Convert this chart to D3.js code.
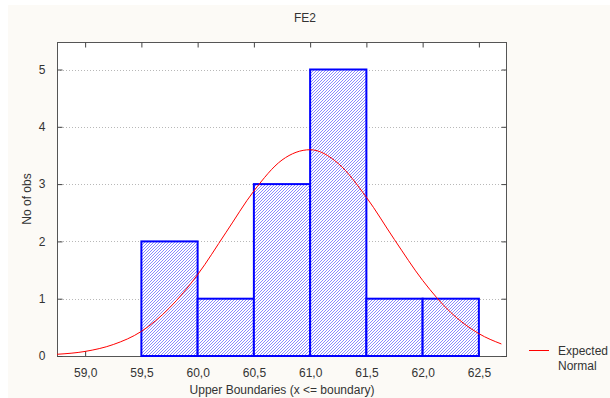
<!DOCTYPE html>
<html><head><meta charset="utf-8">
<script src="https://cdn.jsdelivr.net/npm/d3@7"></script>
<style>
html,body{margin:0;padding:0;background:#fff;}
svg text{font-family:"Liberation Sans",Arial,sans-serif;}
</style></head>
<body><svg id="c" width="610" height="398"></svg>
<script>
// ---- data ----
const title = "FE2";
const binUpper = [59.5, 60.0, 60.5, 61.0, 61.5, 62.0, 62.5];
const counts   = [0, 2, 1, 3, 5, 1, 1];
const binWidth = 0.5;
const xTicks = [59.0, 59.5, 60.0, 60.5, 61.0, 61.5, 62.0, 62.5];
const yTicks = [0, 1, 2, 3, 4, 5];
const curveX = [58.75, 59.0, 59.25, 59.5, 59.75, 60.0, 60.25, 60.5, 60.75, 61.0, 61.25, 61.5, 61.75, 62.0, 62.25, 62.5, 62.7];
const curveY = [0.03, 0.08, 0.20, 0.43, 0.84, 1.42, 2.15, 2.88, 3.42, 3.60, 3.36, 2.77, 2.03, 1.32, 0.76, 0.39, 0.21];
const xLabel = "Upper Boundaries (x <= boundary)";
const yLabel = "No of obs";
const legendLines = ["Expected", "Normal"];

// ---- layout ----
const svg = d3.select("#c");
const L = 57, R = 507, T = 42, B = 356;
svg.append("rect").attr("x", 8).attr("y", 5).attr("width", 602).attr("height", 393).attr("fill", "#fcfaf6");

const x = d3.scaleLinear().domain([58.75, 62.75]).range([L, R]);
const y = d3.scaleLinear().domain([0, 5.48]).range([B, T]);

const defs = svg.append("defs");
const pat = defs.append("pattern").attr("id", "hatch").attr("patternUnits", "userSpaceOnUse")
  .attr("width", 3).attr("height", 3);
pat.append("rect").attr("width", 3).attr("height", 3).attr("fill", "#ffffff");
pat.append("path").attr("d", "M-0.75,0.75 l1.5,-1.5 M0,3 l3,-3 M2.25,3.75 l1.5,-1.5")
  .attr("stroke", "#3a3aff").attr("stroke-width", 0.6);

// plot background
svg.append("rect").attr("x", L).attr("y", T).attr("width", R - L).attr("height", B - T).attr("fill", "#ffffff");

// grid
svg.append("g").selectAll("line").data(yTicks.filter(d => d > 0)).join("line")
  .attr("x1", L).attr("x2", R).attr("y1", d => Math.round(y(d)) + 0.5).attr("y2", d => Math.round(y(d)) + 0.5)
  .attr("stroke", "#b8b8b8").attr("stroke-dasharray", "1,2");

// frame
svg.append("rect").attr("x", L + 0.5).attr("y", T + 0.5).attr("width", R - L - 1).attr("height", B - T)
  .attr("fill", "none").attr("stroke", "#555").attr("stroke-width", 1);

// axes (ticks inward)
const axB = d3.axisBottom(x).tickValues(xTicks).tickSize(-5).tickPadding(12).tickFormat(d => d3.format(".1f")(d).replace(".", ","));
const gB = svg.append("g").attr("transform", `translate(0,${B})`).call(axB);
const axT = d3.axisTop(x).tickValues(xTicks).tickSize(-5).tickFormat("");
const gT = svg.append("g").attr("transform", `translate(0,${T + 0.5})`).call(axT);
const axL = d3.axisLeft(y).tickValues(yTicks).tickSize(-5).tickPadding(12).tickFormat(d3.format("d"));
const gL = svg.append("g").attr("transform", `translate(${L + 0.5},0)`).call(axL);
const axR = d3.axisRight(y).tickValues(yTicks).tickSize(-5).tickFormat("");
const gR = svg.append("g").attr("transform", `translate(${R - 0.5},0)`).call(axR);
[gB, gT, gL, gR].forEach(g => {
  g.select(".domain").remove();
  g.selectAll(".tick line").attr("stroke", "#444");
  g.selectAll(".tick text").attr("fill", "#333").attr("font-size", 12).attr("font-family", "Liberation Sans, Arial, sans-serif");
});
gB.selectAll(".tick text").attr("dy", "0.71em");

// bars (drawn over frame so the zero bin shows on the baseline)
svg.append("g").selectAll("rect").data(binUpper.map((u, i) => ({u, c: counts[i]}))).join("rect")
  .attr("x", d => x(d.u - binWidth))
  .attr("y", d => y(d.c))
  .attr("width", d => x(d.u) - x(d.u - binWidth))
  .attr("height", d => y(0) - y(d.c))
  .attr("fill", "url(#hatch)")
  .attr("stroke", "#0000ff").attr("stroke-width", 2);

// curve
const line = d3.line().x(d => x(d[0])).y(d => y(d[1])).curve(d3.curveMonotoneX);
svg.append("path").datum(curveX.map((v, i) => [v, curveY[i]]))
  .attr("d", line).attr("fill", "none").attr("stroke", "#ff0000").attr("stroke-width", 1);

// labels
svg.append("text").attr("x", 305).attr("y", 22).attr("text-anchor", "middle").attr("font-size", 12).attr("fill", "#333").text(title);
svg.append("text").attr("x", 282).attr("y", 394).attr("text-anchor", "middle").attr("font-size", 12).attr("fill", "#333").text(xLabel);
svg.append("text").attr("transform", "translate(31,199) rotate(-90)").attr("text-anchor", "middle").attr("font-size", 12).attr("fill", "#333").text(yLabel);

// legend
svg.append("line").attr("x1", 529).attr("x2", 549).attr("y1", 350.5).attr("y2", 350.5).attr("stroke", "#ff0000");
svg.append("g").selectAll("text").data(legendLines).join("text")
  .attr("x", 558).attr("y", (d, i) => 355 + i * 15).attr("font-size", 12).attr("fill", "#333").text(d => d);
</script></body></html>
